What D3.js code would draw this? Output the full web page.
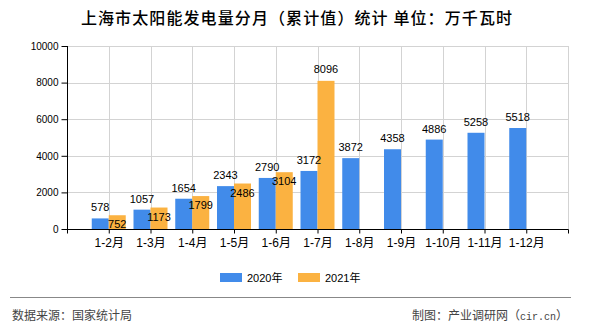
<!DOCTYPE html>
<html>
<head>
<meta charset="utf-8">
<script src="https://cdn.jsdelivr.net/npm/d3@7/dist/d3.min.js"></script>
<style>
  html, body { margin: 0; padding: 0; background: #fff; }
  svg { display: block; font-family: "Liberation Sans", "Noto Sans CJK SC", sans-serif; }
</style>
</head>
<body>
<svg id="chart" width="590" height="330"></svg>
<script>
// Cumulative monthly solar generation in Shanghai (10,000 kWh)
const categories = ["1-2月", "1-3月", "1-4月", "1-5月", "1-6月", "1-7月", "1-8月", "1-9月", "1-10月", "1-11月", "1-12月"];
const seriesNames = ["2020年", "2021年"];
const values2020 = [578, 1057, 1654, 2343, 2790, 3172, 3872, 4358, 4886, 5258, 5518];
const values2021 = [752, 1173, 1799, 2486, 3104, 8096];
const yTicks = [0, 2000, 4000, 6000, 8000, 10000];
const colors = ["#418BEA", "#FBB241"];

const svg = d3.select("#chart");
const plotLeft = 67, plotRight = 568, plotTop = 46, plotBottom = 229;

const x = d3.scalePoint().domain(categories).range([plotLeft, plotRight]).padding(1);
const barW = 17;
const xInner = d3.scaleBand().domain(seriesNames).range([-barW, barW]);
const y = d3.scaleLinear().domain([0, 10000]).range([plotBottom, plotTop]);

// Title
svg.append("text")
  .attr("x", 297).attr("y", 24)
  .attr("text-anchor", "middle")
  .attr("font-family", "'Noto Sans CJK SC', sans-serif")
  .attr("font-size", 16).attr("font-weight", 500)
  .attr("letter-spacing", 1.1)
  .attr("fill", "#000")
  .text("上海市太阳能发电量分月（累计值）统计 单位：万千瓦时");

// Grid: horizontal at y ticks, vertical at each category and the right edge
const grid = svg.append("g").attr("stroke", "#d3d3d3").attr("stroke-width", 1);
grid.selectAll("line.h").data(yTicks.filter(d => d > 0)).join("line")
  .attr("x1", plotLeft).attr("x2", plotRight)
  .attr("y1", d => Math.round(y(d)) + 0.5).attr("y2", d => Math.round(y(d)) + 0.5);
const vLines = categories.map(c => x(c)).concat([plotRight]);
grid.selectAll("line.v").data(vLines).join("line")
  .attr("x1", d => Math.round(d) + 0.5).attr("x2", d => Math.round(d) + 0.5)
  .attr("y1", plotTop).attr("y2", plotBottom);

// Bars
const rows = categories.map((c, i) => ({ cat: c, vals: [values2020[i], values2021[i]] }));
const groups = svg.append("g").selectAll("g").data(rows).join("g")
  .attr("transform", d => `translate(${x(d.cat)},0)`);
groups.selectAll("rect")
  .data(d => d.vals.map((v, j) => ({ v, s: seriesNames[j], j })).filter(e => e.v != null))
  .join("rect")
  .attr("x", e => xInner(e.s))
  .attr("width", xInner.bandwidth())
  .attr("y", e => y(e.v))
  .attr("height", e => plotBottom - y(e.v))
  .attr("fill", e => colors[e.j]);

// Axes
const yAxis = d3.axisLeft(y).tickValues(yTicks).tickSize(6).tickPadding(3).tickFormat(d3.format("d"));
const gy = svg.append("g").attr("transform", `translate(${plotLeft + 0.5},0)`).call(yAxis);
gy.select(".domain").attr("stroke", "#000").attr("d", `M0,${plotTop}V${plotBottom + 0.5}`);
gy.selectAll(".tick line").attr("stroke", "#000");
gy.selectAll(".tick text").attr("font-size", 10).attr("fill", "#000")
  .attr("font-family", "'Liberation Sans', sans-serif");

const xAxis = d3.axisBottom(x).tickSize(4).tickPadding(5);
const gx = svg.append("g").attr("transform", `translate(0,${plotBottom + 0.5})`).call(xAxis);
gx.select(".domain").attr("stroke", "#000").attr("d", `M${plotLeft},0H${plotRight + 0.5}`);
gx.selectAll(".tick line").attr("stroke", "#000");
gx.selectAll(".tick text").attr("font-size", 12).attr("fill", "#000")
  .attr("font-family", "'Liberation Sans', 'Noto Sans CJK SC', sans-serif");
gx.append("line").attr("x1", plotRight + 0.5).attr("x2", plotRight + 0.5).attr("y1", 0).attr("y2", 4).attr("stroke", "#000");
gx.append("line").attr("x1", plotLeft + 0.5).attr("x2", plotLeft + 0.5).attr("y1", 0).attr("y2", 4).attr("stroke", "#000");

// Value labels: 2020 above its bar; 2021 inside the bar top unless it clears the 2020 label
const labels = svg.append("g")
  .attr("font-family", "'Liberation Sans', sans-serif")
  .attr("font-size", 11).attr("fill", "#000").attr("text-anchor", "middle");
rows.forEach(r => {
  const cx = x(r.cat);
  const b = r.vals[0], o = r.vals[1];
  labels.append("text")
    .attr("x", cx + xInner(seriesNames[0]) + xInner.bandwidth() / 2)
    .attr("y", y(b) - 7).text(b);
  if (o != null) {
    const inside = (o - b) < 1500;
    labels.append("text")
      .attr("x", cx + xInner(seriesNames[1]) + xInner.bandwidth() / 2)
      .attr("y", inside ? y(o) + 13 : y(o) - 8).text(o);
  }
});

// Legend
const legend = svg.append("g").attr("font-size", 11)
  .attr("font-family", "'Liberation Sans', 'Noto Sans CJK SC', sans-serif");
const legendX = [220, 298];
seriesNames.forEach((s, j) => {
  legend.append("rect").attr("x", legendX[j]).attr("y", 273).attr("width", 22).attr("height", 9).attr("fill", colors[j]);
  legend.append("text").attr("x", legendX[j] + 27).attr("y", 281.5).attr("fill", "#000").text(s);
});

// Footer
svg.append("line").attr("x1", 10).attr("x2", 571).attr("y1", 297.5).attr("y2", 297.5)
  .attr("stroke", "#888").attr("stroke-width", 1);
svg.append("text").attr("x", 12).attr("y", 320)
  .attr("font-family", "'Noto Sans CJK SC', sans-serif").attr("font-size", 12).attr("fill", "#444")
  .text("数据来源：国家统计局");
const credit = svg.append("text").attr("x", 568).attr("y", 320).attr("text-anchor", "end")
  .attr("font-family", "'Noto Sans CJK SC', sans-serif").attr("font-size", 12).attr("fill", "#444");
credit.append("tspan").text("制图：产业调研网（");
credit.append("tspan").attr("font-family", "'Liberation Mono', 'DejaVu Sans Mono', monospace")
  .attr("font-size", 10).text("cir.cn");
credit.append("tspan").text("）");
</script>
</body>
</html>
